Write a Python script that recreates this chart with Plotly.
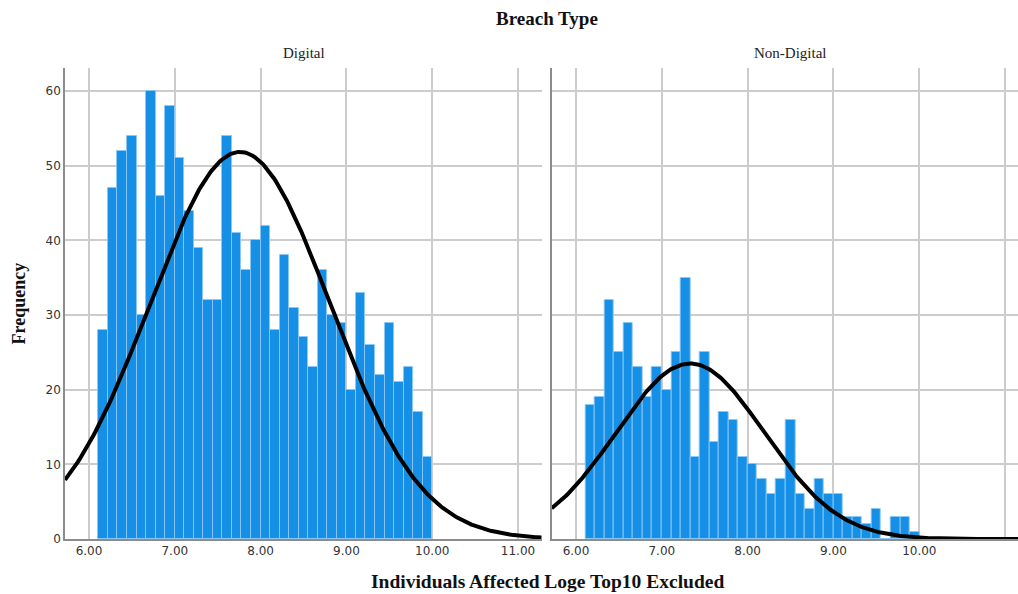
import numpy as np
import plotly.graph_objects as go

# ---- data ----
bin_start = 6.109
bin_width = 0.11117
digital_counts = [28, 47, 52, 54, 30, 60, 46, 58, 51, 44, 39, 32, 32, 54, 41, 36, 40, 42,
                  28, 38, 31, 27, 23, 36, 30, 29, 20, 33, 26, 22, 29, 21, 23, 17, 11]
nondigital_counts = [18, 19, 32, 25, 29, 23, 19, 23, 20, 25, 35, 11, 25, 13, 17, 16, 11, 10,
                     8, 6, 8, 16, 6, 4, 8, 6, 6, 3, 3, 2, 4, 0, 3, 3, 1]
digital_mean, digital_sd = 7.76, 1.052
nondigital_mean, nondigital_sd = 7.33, 0.864
x_ticks = [6, 7, 8, 9, 10, 11]
y_ticks = [0, 10, 20, 30, 40, 50, 60]
panel_titles = ["Digital", "Non-Digital"]

centers = [bin_start + bin_width * (i + 0.5) for i in range(len(digital_counts))]

BAR = "#1590e6"
SERIF = "Liberation Serif"
SANS = "DejaVu Sans"

fig = go.Figure()

def normal_curve(counts, mean, sd, x0, x1):
    n = sum(counts)
    xs = np.linspace(x0, x1, 300)
    ys = n * bin_width / (sd * np.sqrt(2 * np.pi)) * np.exp(-0.5 * ((xs - mean) / sd) ** 2)
    return xs, ys

panels = [
    (digital_counts, digital_mean, digital_sd, "x", "y", [5.72, 11.276]),
    (nondigital_counts, nondigital_mean, nondigital_sd, "x2", "y2", [5.717, 11.15]),
]
for counts, mean, sd, xa, ya, rng in panels:
    fig.add_trace(go.Bar(x=centers, y=counts, width=bin_width, xaxis=xa, yaxis=ya,
                         marker=dict(color=BAR, line=dict(color="rgba(140,200,245,0.9)", width=1)),
                         showlegend=False, hoverinfo="skip"))
    xs, ys = normal_curve(counts, mean, sd, rng[0], rng[1])
    fig.add_trace(go.Scatter(x=xs, y=ys, mode="lines", xaxis=xa, yaxis=ya,
                             line=dict(color="black", width=4), showlegend=False,
                             hoverinfo="skip"))

W, H = 1018, 594
ml, mr, mt, mb = 65, 0, 68, 55
pw = W - ml - mr

axis_common = dict(showgrid=True, gridcolor="#cccccc", gridwidth=1.5, zeroline=False,
                   showline=True, linecolor="#8c8c8c", linewidth=1.5,
                   ticks="", tickfont=dict(family=SANS, size=12, color="#333333"))

def px(xpix):
    return (xpix - ml) / pw

fig.update_layout(
    width=W, height=H,
    margin=dict(l=ml, r=mr, t=mt, b=mb),
    plot_bgcolor="white", paper_bgcolor="white",
    bargap=0,
    xaxis=dict(domain=[0, 476.7 / pw], range=panels[0][5], tickvals=x_ticks,
               tickformat=".2f", anchor="y", **axis_common),
    yaxis=dict(domain=[0, 1], range=[0, 63.1], tickvals=y_ticks, anchor="x",
               **axis_common),
    xaxis2=dict(domain=[486.7 / pw, 1], range=panels[1][5], tickvals=x_ticks,
                tickformat=".2f", anchor="y2", **axis_common),
    yaxis2=dict(domain=[0, 1], range=[0, 63.1], tickvals=y_ticks, anchor="x2",
                showticklabels=False, **axis_common),
    annotations=[
        dict(text="<b>Breach Type</b>", x=px(547), y=1.0, xanchor="center", yanchor="middle",
             xref="paper", yref="paper", yshift=68 - 18, showarrow=False,
             font=dict(family=SERIF, size=19, color="#111111")),
        dict(text=panel_titles[0], x=px(304), y=1.0, xanchor="center", yanchor="middle",
             xref="paper", yref="paper", yshift=68 - 53, showarrow=False,
             font=dict(family=SERIF, size=15, color="#222222")),
        dict(text=panel_titles[1], x=px(790), y=1.0, xanchor="center", yanchor="middle",
             xref="paper", yref="paper", yshift=68 - 53, showarrow=False,
             font=dict(family=SERIF, size=15, color="#222222")),
        dict(text="<b>Frequency</b>", x=px(18), y=0.5, xanchor="center", yanchor="middle",
             xref="paper", yref="paper", textangle=-90, showarrow=False,
             font=dict(family=SERIF, size=18, color="#111111")),
        dict(text="<b>Individuals Affected Loge Top10 Excluded</b>", x=px(547), y=0,
             xanchor="center", yanchor="bottom", xref="paper", yref="paper",
             yshift=-(594 - 539), showarrow=False,
             font=dict(family=SERIF, size=19.5, color="#111111")),
    ],
)

fig.write_html("out.html")
